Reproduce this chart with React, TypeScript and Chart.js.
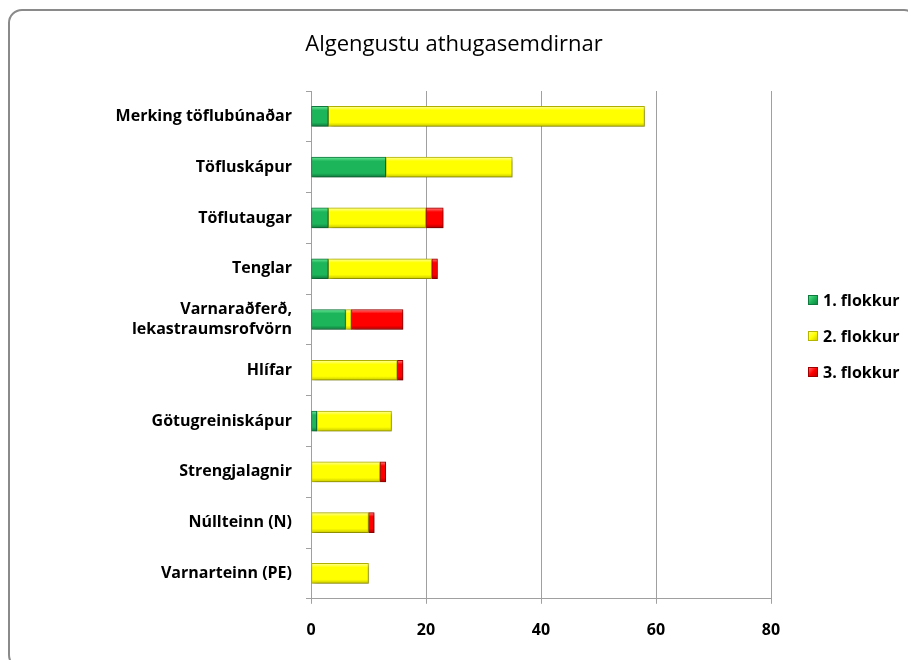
import React, { useEffect, useRef } from "react";
import { Chart, registerables } from "chart.js";

Chart.register(...registerables);

const categories: (string | string[])[] = [
  "Merking töflubúnaðar",
  "Töfluskápur",
  "Töflutaugar",
  "Tenglar",
  ["Varnaraðferð,", "lekastraumsrofvörn"],
  "Hlífar",
  "Götugreiniskápur",
  "Strengjalagnir",
  "Núllteinn (N)",
  "Varnarteinn (PE)",
];
const flokkur1 = [3, 13, 3, 3, 6, 0, 1, 0, 0, 0];
const flokkur2 = [55, 22, 17, 18, 1, 15, 13, 12, 10, 10];
const flokkur3 = [0, 0, 3, 1, 9, 1, 0, 1, 1, 0];
const seriesNames = ["1. flokkur", "2. flokkur", "3. flokkur"];
const xTicks = [0, 20, 40, 60, 80];
const chartTitle = "Algengustu athugasemdirnar";

const FONT = "'Open Sans', Lato, sans-serif";

const palette = [
  { light: "#6ae898", main: "#1db55a", dark: "#0e7a3c", border: "#0f7a3e" },
  { light: "#ffffa0", main: "#ffff00", dark: "#c9c900", border: "#b5b500" },
  { light: "#ff7a7a", main: "#ff0000", dark: "#b00000", border: "#a00000" },
];

function makeFill(i: number) {
  return (ctx: any) => {
    const chart = ctx.chart;
    const p = palette[i];
    const ys = chart.scales?.y;
    if (!ys || ctx.type !== "data") return p.main;
    const yc = ys.getPixelForValue(ctx.dataIndex);
    if (!Number.isFinite(yc)) return p.main;
    const g = chart.ctx.createLinearGradient(0, yc - 10, 0, yc + 10);
    g.addColorStop(0, p.light);
    g.addColorStop(0.2, p.main);
    g.addColorStop(0.8, p.main);
    g.addColorStop(1, p.dark);
    return g;
  };
}

const shadowPlugin = {
  id: "barShadow",
  beforeDatasetsDraw(chart: any) {
    const c = chart.ctx;
    c.save();
    c.shadowColor = "rgba(0,0,0,0.28)";
    c.shadowBlur = 4;
    c.shadowOffsetX = 2;
    c.shadowOffsetY = 2;
  },
  afterDatasetsDraw(chart: any) {
    chart.ctx.restore();
  },
};

const titleLegendPlugin = {
  id: "titleLegend",
  afterDraw(chart: any) {
    const c = chart.ctx;
    c.save();
    c.fillStyle = "#000";
    c.font = `normal 22px ${FONT}`;
    c.textAlign = "center";
    c.textBaseline = "middle";
    c.fillText(chartTitle, 454, 45);

    const x = 808;
    const ys = [300, 336, 372];
    seriesNames.forEach((name, i) => {
      const p = palette[i];
      const y = ys[i];
      const g = c.createLinearGradient(x, y - 5, x + 10, y + 5);
      g.addColorStop(0, p.light);
      g.addColorStop(0.5, p.main);
      g.addColorStop(1, p.dark);
      c.fillStyle = g;
      c.fillRect(x, y - 5, 10, 10);
      c.strokeStyle = p.border;
      c.lineWidth = 1;
      c.strokeRect(x + 0.5, y - 4.5, 9, 9);
      c.fillStyle = "#000";
      c.font = `bold 16px ${FONT}`;
      c.textBaseline = "middle";
      c.textAlign = "left";
      c.fillText(name, x + 15, y + 1);
    });
    c.restore();
  },
};

export default function App() {
  const ref = useRef<HTMLCanvasElement>(null);
  useEffect(() => {
    if (!ref.current) return;
    const data = [flokkur1, flokkur2, flokkur3];
    const chart = new Chart(ref.current, {
      type: "bar",
      data: {
        labels: categories,
        datasets: data.map((d, i) => ({
          label: seriesNames[i],
          data: d,
          backgroundColor: makeFill(i),
          borderColor: palette[i].border,
          borderWidth: 1,
          borderSkipped: false,
          barThickness: 20,
        })),
      },
      options: {
        indexAxis: "y",
        animation: false,
        responsive: false,
        maintainAspectRatio: false,
        layout: { padding: { left: 0, right: 137, top: 91, bottom: 3 } },
        plugins: {
          legend: { display: false },
          tooltip: { enabled: false },
          title: { display: false },
        },
        scales: {
          x: {
            stacked: true,
            min: 0,
            max: 80,
            afterBuildTicks: (axis: any) => {
              axis.ticks = xTicks.map((v) => ({ value: v }));
            },
            grid: {
              color: "#a0a0a0",
              lineWidth: 1,
              tickLength: 5,
              drawTicks: true,
            },
            border: { display: true, color: "#a0a0a0" },
            ticks: {
              color: "#000",
              font: { family: FONT, size: 16, weight: "bold" },
              padding: 17,
            },
          },
          y: {
            stacked: true,
            afterFit: (axis: any) => {
              axis.width = 311;
            },
            grid: {
              drawOnChartArea: false,
              drawTicks: true,
              tickLength: 5,
              color: "#a0a0a0",
            },
            border: { display: true, color: "#a0a0a0" },
            ticks: {
              color: "#000",
              font: { family: FONT, size: 16, weight: "bold" },
              padding: 14,
              autoSkip: false,
            },
          },
        },
      },
      plugins: [shadowPlugin, titleLegendPlugin],
    } as any);
    return () => chart.destroy();
  }, []);

  return (
    <div style={{ position: "fixed", left: 0, top: 0, width: 908, height: 660, background: "#fff" }}>
      <div
        style={{
          position: "absolute",
          left: 8,
          top: 9,
          width: 910,
          height: 660,
          border: "2px solid #8a8a8a",
          borderRadius: 14,
          boxSizing: "border-box",
        }}
      />
      <canvas ref={ref} width={908} height={660} style={{ position: "absolute", left: 0, top: 0 }} />
    </div>
  );
}
